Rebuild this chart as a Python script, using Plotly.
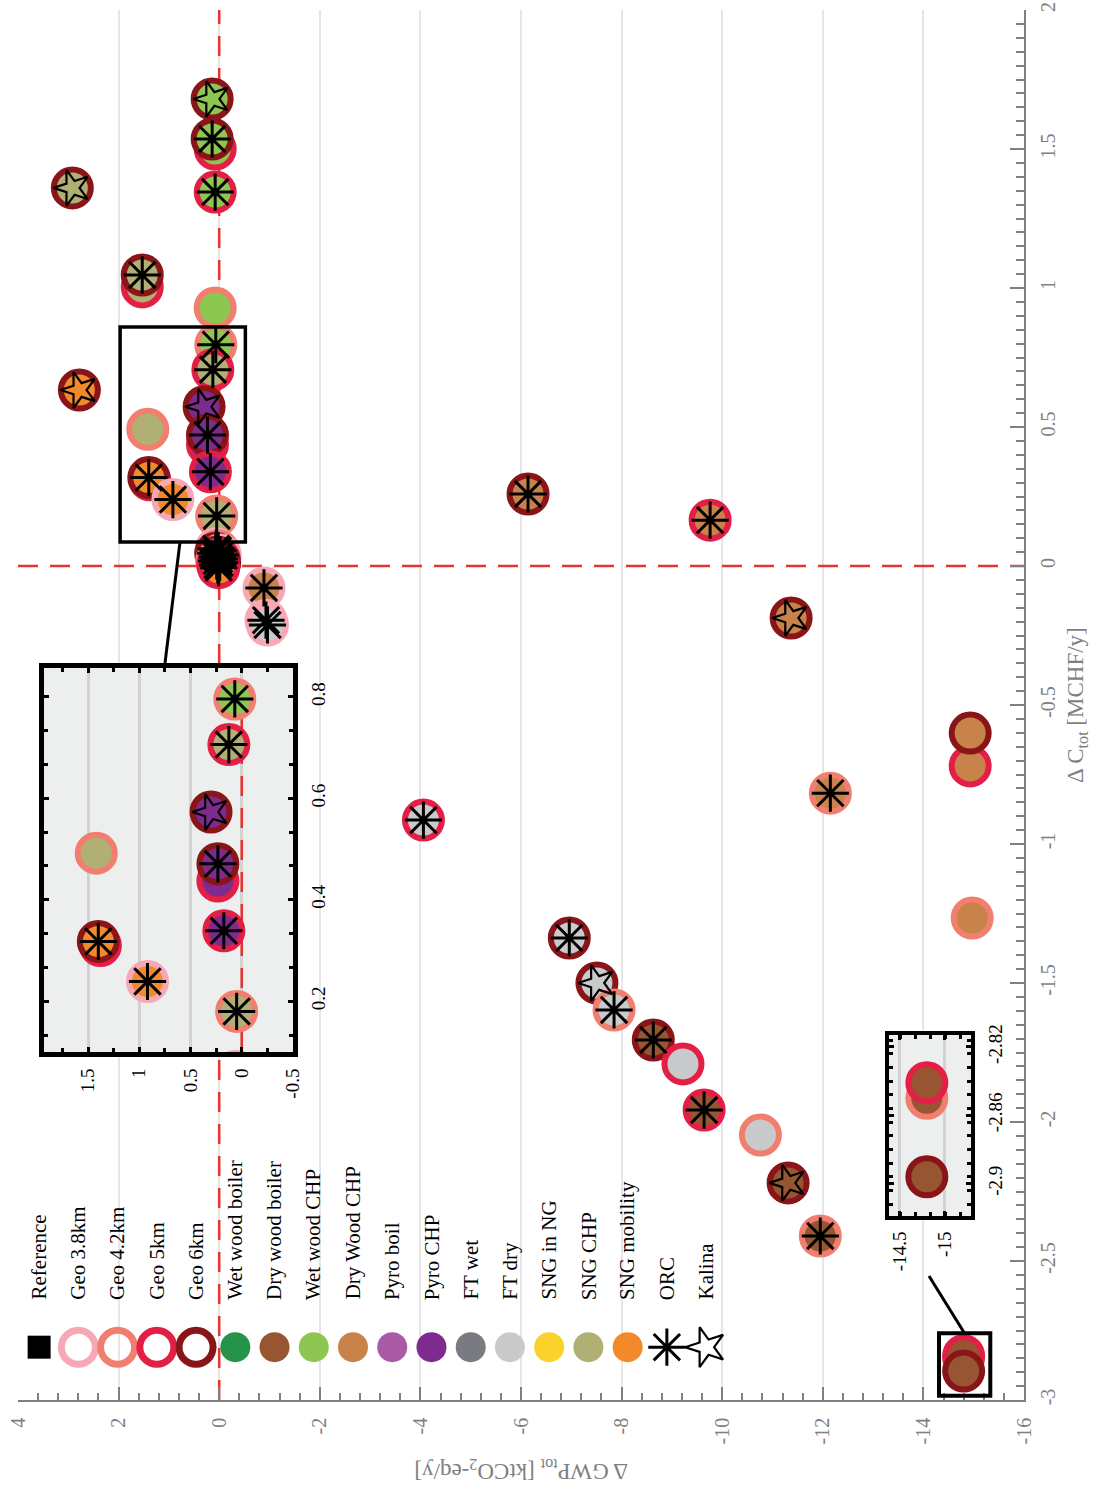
import plotly.graph_objects as go

SERIF = "Liberation Serif, Times New Roman, serif"

# ---------------------------------------------------------------- data
# Change in total GWP [ktCO2-eq/y] and total cost [MCHF/y] per configuration
gwp = [2.92, 2.78, 1.53, 1.53, 0.14, 0.08, 0.14, 0.08, 0.08, 0.068,
       0.126, 0.30, 1.42, 0.233, 0.233, 0.175, 1.38, 1.40, 0.92, 0.05,
       0.06, 0.02, 0.07, -0.02, 0.04, 0.0, 0.05, -0.01, 0.03, 0.01,
       -0.89, -0.93, -0.96,
       -6.14, -9.76, -11.37, -14.93, -14.93, -12.15, -14.97,
       -4.06, -6.96, -7.51, -7.85, -8.63, -9.22, -9.64, -10.76, -11.31, -11.95,
       -14.8, -14.8, -14.8]
cost = [1.360, 0.633, 1.004, 1.047, 1.680, 1.500, 1.536, 1.345, 0.928, 0.796,
        0.706, 0.573, 0.492, 0.437, 0.471, 0.339, 0.310, 0.318, 0.239, 0.180,
        0.062, 0.055, 0.046, 0.040, 0.032, 0.025, 0.018, 0.012, 0.004, -0.006,
        -0.079, -0.195, -0.212,
        0.259, 0.165, -0.187, -0.719, -0.601, -0.817, -1.266,
        -0.914, -1.338, -1.500, -1.597, -1.705, -1.791, -1.957, -2.047, -2.219, -2.410,
        -2.850, -2.841, -2.896]
depth = ["Geo 6km", "Geo 6km", "Geo 5km", "Geo 6km", "Geo 6km", "Geo 5km", "Geo 6km", "Geo 5km", "Geo 4.2km", "Geo 4.2km",
         "Geo 5km", "Geo 6km", "Geo 4.2km", "Geo 5km", "Geo 6km", "Geo 5km", "Geo 5km", "Geo 6km", "Geo 3.8km", "Geo 4.2km",
         "Geo 3.8km", "Geo 4.2km", "Geo 6km", "Geo 3.8km", "Geo 6km", "Geo 5km", "Geo 4.2km", "Geo 6km", "Geo 5km", "Geo 5km",
         "Geo 3.8km", "Geo 3.8km", "Geo 3.8km",
         "Geo 6km", "Geo 5km", "Geo 6km", "Geo 5km", "Geo 6km", "Geo 4.2km", "Geo 4.2km",
         "Geo 5km", "Geo 6km", "Geo 6km", "Geo 4.2km", "Geo 6km", "Geo 5km", "Geo 5km", "Geo 4.2km", "Geo 6km", "Geo 4.2km",
         "Geo 4.2km", "Geo 5km", "Geo 6km"]
tech = ["SNG CHP", "SNG mobility", "SNG CHP", "SNG CHP", "Wet wood CHP", "Wet wood CHP", "Wet wood CHP", "Wet wood CHP", "Wet wood CHP", "Wet wood CHP",
        "SNG CHP", "Pyro CHP", "SNG CHP", "Pyro CHP", "Pyro CHP", "Pyro CHP", "SNG mobility", "SNG mobility", "SNG mobility", "SNG CHP",
        "SNG CHP", "Pyro CHP", "Pyro CHP", "SNG mobility", "Pyro CHP", "Pyro CHP", "SNG CHP", "SNG mobility", "SNG mobility", "SNG mobility",
        "Dry Wood CHP", "FT dry", "FT dry",
        "Dry Wood CHP", "Dry Wood CHP", "Dry Wood CHP", "Dry Wood CHP", "Dry Wood CHP", "Dry Wood CHP", "Dry Wood CHP",
        "FT dry", "FT dry", "FT dry", "FT dry", "Dry wood boiler", "FT dry", "Dry wood boiler", "FT dry", "Dry wood boiler", "Dry wood boiler",
        "Dry wood boiler", "Dry wood boiler", "Dry wood boiler"]
cycle = ["Kalina", "Kalina", "", "ORC", "Kalina", "", "ORC", "ORC", "", "ORC",
         "ORC", "Kalina", "", "", "ORC", "ORC", "", "ORC", "ORC", "ORC",
         "ORC", "ORC", "ORC", "ORC", "ORC", "ORC", "ORC", "ORC", "ORC", "ORC",
         "ORC", "ORC", "ORC",
         "ORC", "ORC", "Kalina", "", "", "ORC", "",
         "ORC", "ORC", "Kalina", "ORC", "ORC", "", "ORC", "", "Kalina", "ORC",
         "", "", ""]

ref_gwp = [0.0]
ref_cost = [0.0]

geo_names = ["Geo 3.8km", "Geo 4.2km", "Geo 5km", "Geo 6km"]
geo_colors = ["#F6A9B5", "#F07F70", "#E31F46", "#8A1519"]
tech_names = ["Wet wood boiler", "Dry wood boiler", "Wet wood CHP", "Dry Wood CHP",
              "Pyro boil", "Pyro CHP", "FT wet", "FT dry", "SNG in NG", "SNG CHP", "SNG mobility"]
tech_colors = ["#26934A", "#975532", "#8DC751", "#C8834A", "#AB5BA6", "#7F2A8E",
               "#7A7B80", "#C9CACC", "#FBD22B", "#B0B075", "#F28A2A"]
cycle_names = ["ORC", "Kalina"]

gwp_ticks = [4, 2, 0, -2, -4, -6, -8, -10, -12, -14, -16]
gwp_ticklabels = ["4", "2", "0", "-2", "-4", "-6", "-8", "-10", "-12", "-14", "-16"]
cost_ticks = [2, 1.5, 1, 0.5, 0, -0.5, -1, -1.5, -2, -2.5, -3]
cost_ticklabels = ["2", "1.5", "1", "0.5", "0", "-0.5", "-1", "-1.5", "-2", "-2.5", "-3"]

zoom1_gwp_ticks = [1.5, 1, 0.5, 0, -0.5]
zoom1_gwp_labels = ["1.5", "1", "0.5", "0", "-0.5"]
zoom1_cost_ticks = [0.2, 0.4, 0.6, 0.8]
zoom1_cost_labels = ["0.2", "0.4", "0.6", "0.8"]
zoom2_gwp_ticks = [-14.5, -15]
zoom2_gwp_labels = ["-14.5", "-15"]
zoom2_cost_ticks = [-2.82, -2.86, -2.9]
zoom2_cost_labels = ["-2.82", "-2.86", "-2.9"]

# ---------------------------------------------------------------- layout settings
GWP_RANGE = [4, -16]
COST_RANGE = [-3, 2]
Z1_GWP = [1.93, -0.5]
Z1_COST = [0.1, 0.857]
Z2_GWP = [-14.38, -15.29]
Z2_COST = [-2.919, -2.813]
BOX2_COST = [-2.985, -2.76]

GEO = dict(zip(geo_names, geo_colors))
TECH = dict(zip(tech_names, tech_colors))
RED = "#E8322E"
GREY = "#7F7F7F"


def marker_layers():
    """Circles (fill = technology, ring = depth) first, cycle symbols on top."""
    circles = dict(x=list(gwp), y=list(cost),
                   marker=dict(symbol="circle", size=37, opacity=1,
                               color=[TECH[t] for t in tech],
                               line=dict(color=[GEO[d] for d in depth], width=6)))
    sx, sy, sym, size, lw, ang = [], [], [], [], [], []
    for g, c, cy in zip(gwp, cost, cycle):
        if cy == "ORC":
            sx.append(g); sy.append(c); sym.append("asterisk-open")
            size.append(31); lw.append(3); ang.append(0)
        elif cy == "Kalina":
            sx.append(g); sy.append(c); sym.append("star-open")
            size.append(27); lw.append(2.2); ang.append(-90)
    symbols = dict(x=sx, y=sy,
                   marker=dict(symbol=sym, size=size, angle=ang, color="black",
                               opacity=1, line=dict(color="black", width=lw)))
    return circles, symbols


fig = go.Figure()

# dashed reference lines through the origin
for xa, ya, yr in [("x", "y", COST_RANGE), ("x2", "y2", Z1_COST)]:
    fig.add_trace(go.Scatter(x=[0, 0], y=yr, mode="lines", xaxis=xa, yaxis=ya,
                             line=dict(color=RED, width=2.5, dash="20px,12px"),
                             hoverinfo="skip"))
fig.add_trace(go.Scatter(x=GWP_RANGE, y=[0, 0], mode="lines",
                         line=dict(color=RED, width=2.5, dash="20px,12px"),
                         hoverinfo="skip"))

# reference configuration
fig.add_trace(go.Scatter(x=ref_gwp, y=ref_cost, mode="markers",
                         marker=dict(symbol="square", size=23, color="black", opacity=1),
                         name="Reference"))

# all configurations: main axes and both zoom windows
circ, symb = marker_layers()
for xa, ya in [("x", "y"), ("x2", "y2"), ("x3", "y3")]:
    for layer in (circ, symb):
        fig.add_trace(go.Scatter(x=layer["x"], y=layer["y"], mode="markers",
                                 xaxis=xa, yaxis=ya, marker=layer["marker"],
                                 cliponaxis=True, name="configurations"))

# in-plot legend
leg_names = ["Reference"] + geo_names + tech_names + cycle_names
leg_x = [3.58 - 0.78 * i for i in range(len(leg_names))]
LEG_Y = -2.81
leg_sym = ["square"] + ["circle-open"] * 4 + ["circle"] * 11 + ["asterisk-open", "star-open"]
leg_size = [23] + [34] * 4 + [30] * 11 + [31, 30]
leg_col = ["black"] + geo_colors + tech_colors + ["black", "black"]
leg_lw = [0] + [7] * 4 + [0] * 11 + [3, 2.2]
leg_ang = [0] * 17 + [-90]
fig.add_trace(go.Scatter(x=leg_x, y=[LEG_Y] * len(leg_x), mode="markers",
                         marker=dict(symbol=leg_sym, size=leg_size, color=leg_col,
                                     angle=leg_ang, opacity=1,
                                     line=dict(color=leg_col, width=leg_lw)),
                         name="legend"))

annotations = []
for name, lx in zip(leg_names, leg_x):
    annotations.append(dict(x=lx, y=-2.647, xref="x", yref="y", text=name,
                            showarrow=False, textangle=-90, xanchor="center",
                            yanchor="bottom",
                            font=dict(family=SERIF, size=21, color="black")))

# axis titles
annotations.append(dict(x=(1077 - 18) / 1006, y=0.5, xref="paper", yref="paper",
                        text="Δ C<sub>tot</sub> [MCHF/y]", showarrow=False,
                        textangle=-90, xanchor="center", yanchor="middle",
                        font=dict(family=SERIF, size=23, color=GREY)))
annotations.append(dict(x=0.5, y=(1400 - 1470) / 1390, xref="paper", yref="paper",
                        text="Δ GWP<sub>tot</sub> [ktCO<sub>2</sub>-eq/y]", showarrow=False,
                        textangle=180, xanchor="center", yanchor="middle",
                        font=dict(family=SERIF, size=23, color=GREY)))

shapes = [
    # zoom window backgrounds
    dict(type="rect", xref="x2", yref="y2", x0=Z1_GWP[0], x1=Z1_GWP[1],
         y0=Z1_COST[0], y1=Z1_COST[1], fillcolor="#EDEEEE", line=dict(width=0),
         layer="below"),
    dict(type="rect", xref="x3", yref="y3", x0=Z2_GWP[0], x1=Z2_GWP[1],
         y0=Z2_COST[0], y1=Z2_COST[1], fillcolor="#EDEEEE", line=dict(width=0),
         layer="below"),
    # zoomed regions on the main axes
    dict(type="rect", xref="x", yref="y", x0=Z1_GWP[0] + 0.04, x1=Z1_GWP[1] - 0.02,
         y0=Z1_COST[0] - 0.014, y1=Z1_COST[1] + 0.003,
         line=dict(color="black", width=3.5), layer="above"),
    dict(type="rect", xref="x", yref="y", x0=Z2_GWP[0] + 0.07, x1=Z2_GWP[1] - 0.04,
         y0=BOX2_COST[0], y1=BOX2_COST[1],
         line=dict(color="black", width=4), layer="above"),
    # connectors from region to zoom window
    dict(type="line", xref="paper", yref="paper",
         x0=(180 - 18) / 1006, y0=(1400 - 542) / 1390,
         x1=(165 - 18) / 1006, y1=(1400 - 663) / 1390,
         line=dict(color="black", width=3), layer="above"),
    dict(type="line", xref="paper", yref="paper",
         x0=(929 - 18) / 1006, y0=(1400 - 1276) / 1390,
         x1=(965 - 18) / 1006, y1=(1400 - 1334) / 1390,
         line=dict(color="black", width=3), layer="above"),
]

tick_font = dict(family=SERIF, size=20, color=GREY)
inset_font = dict(family=SERIF, size=19, color="black")

main_common = dict(showline=True, linecolor="#808080", linewidth=1.5,
                   ticks="inside", tickcolor="#808080", tickwidth=1.5,
                   tickangle=-90, tickfont=tick_font, zeroline=False,
                   tickmode="array", automargin=False)

inset_common = dict(showline=True, linecolor="black", mirror="allticks",
                    ticks="inside", tickcolor="black", tickwidth=2.5, ticklen=5,
                    tickangle=-90, tickfont=inset_font, zeroline=False,
                    tickmode="array", ticklabelstandoff=4, automargin=False)

fig.update_layout(
    width=1101, height=1488,
    margin=dict(l=18, r=77, t=10, b=88, autoexpand=False),
    paper_bgcolor="white", plot_bgcolor="white",
    showlegend=False,
    font=dict(family=SERIF),
    xaxis=dict(domain=[0, 1], range=GWP_RANGE, anchor="y",
               tickvals=gwp_ticks, ticktext=gwp_ticklabels, ticklen=13,
               showgrid=True, gridcolor="#E6E6E6", gridwidth=1.5,
               ticklabelstandoff=8,
               minor=dict(tickmode="linear", tick0=0, dtick=0.4, ticks="inside",
                          ticklen=7, tickwidth=1.5, tickcolor="#808080",
                          showgrid=False),
               **main_common),
    yaxis=dict(domain=[0, 1], range=COST_RANGE, anchor="x", side="right",
               tickvals=cost_ticks, ticktext=cost_ticklabels, ticklen=14,
               showgrid=False, ticklabelstandoff=5,
               minor=dict(tickmode="linear", tick0=0, dtick=0.05, ticks="inside",
                          ticklen=8, tickwidth=1.5, tickcolor="#808080",
                          showgrid=False),
               **main_common),
    xaxis2=dict(domain=[(44 - 18) / 1006, (293 - 18) / 1006], range=Z1_GWP,
                anchor="y2", linewidth=5,
                tickvals=zoom1_gwp_ticks, ticktext=zoom1_gwp_labels,
                showgrid=True, gridcolor="#D2D2D2", gridwidth=3,
                minor=dict(tickmode="linear", tick0=0, dtick=0.25, ticks="inside",
                           ticklen=4, tickwidth=2.5, tickcolor="black", showgrid=False),
                **inset_common),
    yaxis2=dict(domain=[(1400 - 1052) / 1390, (1400 - 668) / 1390], range=Z1_COST,
                anchor="x2", side="right", linewidth=5,
                tickvals=zoom1_cost_ticks, ticktext=zoom1_cost_labels,
                showgrid=False,
                minor=dict(tickmode="linear", tick0=0, dtick=0.0667, ticks="inside",
                           ticklen=4, tickwidth=2.5, tickcolor="black", showgrid=False),
                **inset_common),
    xaxis3=dict(domain=[(889 - 18) / 1006, (971 - 18) / 1006], range=Z2_GWP,
                anchor="y3", linewidth=4,
                tickvals=zoom2_gwp_ticks, ticktext=zoom2_gwp_labels,
                showgrid=True, gridcolor="#D2D2D2", gridwidth=3,
                minor=dict(tickmode="linear", tick0=0, dtick=0.1667, ticks="inside",
                           ticklen=4, tickwidth=2.5, tickcolor="black", showgrid=False),
                **inset_common),
    yaxis3=dict(domain=[(1400 - 1216) / 1390, (1400 - 1035) / 1390], range=Z2_COST,
                anchor="x3", side="right", linewidth=4,
                tickvals=zoom2_cost_ticks, ticktext=zoom2_cost_labels,
                showgrid=False,
                minor=dict(tickmode="linear", tick0=0, dtick=0.008, ticks="inside",
                           ticklen=4, tickwidth=2.5, tickcolor="black", showgrid=False),
                **inset_common),
    shapes=shapes,
    annotations=annotations,
)

fig.write_html("out.html")
